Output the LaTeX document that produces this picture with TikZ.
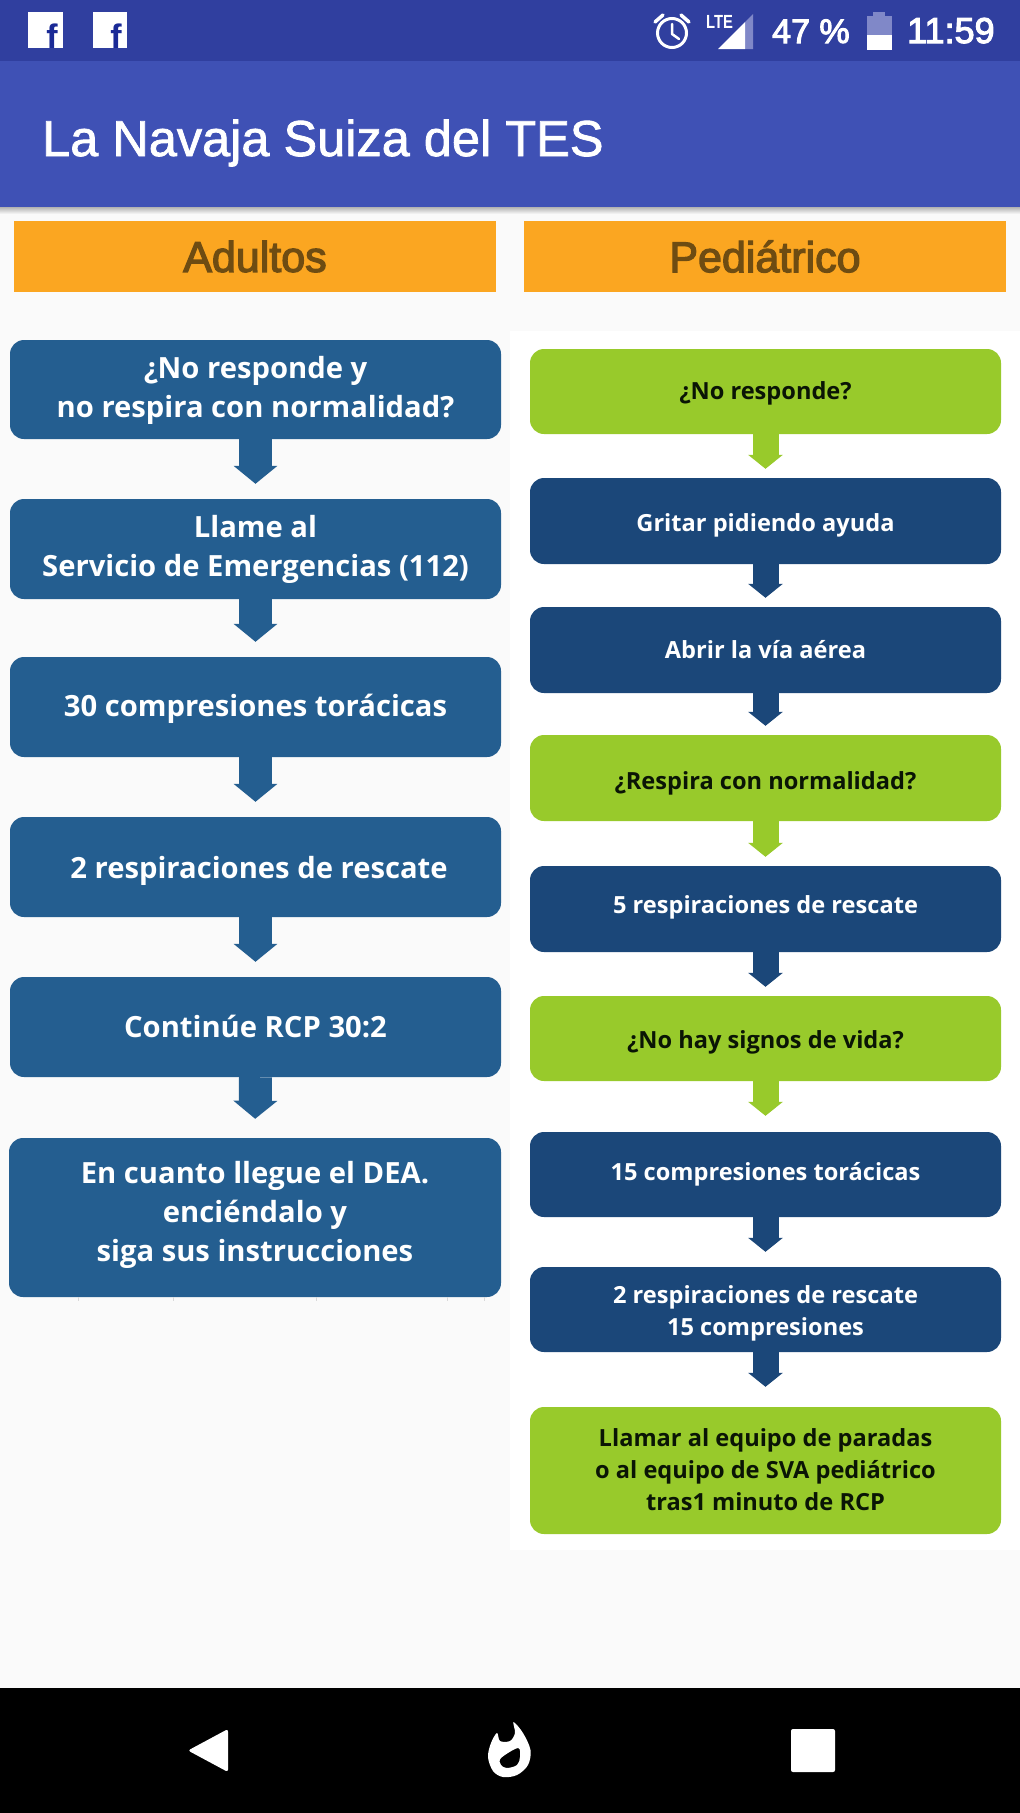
\documentclass[tikz,border=0pt]{standalone}
\usepackage{fontspec}
\setmainfont{Open Sans}
\newfontfamily\uifont{Liberation Sans}
\newfontfamily\mediumfont[FakeBold=1.5]{Liberation Sans}
\newfontfamily\headfont[FakeBold=3]{Liberation Sans}
\usetikzlibrary{arrows.meta}
\definecolor{bgc}{HTML}{FAFAFA}
\definecolor{statusc}{HTML}{303F9F}
\definecolor{appc}{HTML}{3F51B5}
\definecolor{orangec}{HTML}{FBA621}
\definecolor{brownc}{HTML}{6E4C12}
\definecolor{lblue}{HTML}{245E90}
\definecolor{dblue}{HTML}{1B4779}
\definecolor{greenc}{HTML}{98CA2B}
\definecolor{inkc}{HTML}{0A1505}
\definecolor{iconblue}{HTML}{1A2A96}
\definecolor{fadec}{HTML}{8088C8}
\tikzset{
  basebox/.style={rectangle,rounded corners=14pt,inner sep=0pt,align=center},
  lbox/.style={basebox,fill=lblue,text=white,minimum width=491pt,font=\bfseries\fontsize{29.2}{39}\selectfont},
  rbox/.style={basebox,fill=dblue,text=white,minimum width=471pt,font=\bfseries\fontsize{23.6}{32}\selectfont},
  gbox/.style={rbox,fill=greenc,text=inkc},
  bl/.style={text height=#1pt,text depth=0pt},
  header/.style={rectangle,fill=orangec,text=brownc,inner sep=0pt,minimum width=482pt,minimum height=71pt,font=\headfont\fontsize{43}{48}\selectfont},
  larrow/.style={draw=lblue,line width=33pt,shorten >=15pt,-{Triangle[length=18pt,width=43pt]}},
  darrow/.style={draw=dblue,line width=26pt,shorten >=9pt,-{Triangle[length=14pt,width=34pt]}},
  garrow/.style={darrow,draw=greenc},
  status/.style={text=white,inner sep=0pt,anchor=base west,font=\headfont\fontsize{34}{40}\selectfont}
}
\begin{document}
\begin{tikzpicture}[x=1pt,y=-1pt]
\useasboundingbox (0,0) rectangle (1020,1813);
% screen
\fill[bgc] (0,0) rectangle (1020,1813);
\fill[white] (510,331) rectangle (1020,1550);
\shade[top color=black!30,bottom color=bgc] (0,207) rectangle (1020,214);
\fill[appc] (0,61) rectangle (1020,207);
\fill[statusc] (0,0) rectangle (1020,61);
\fill[black] (0,1688) rectangle (1020,1813);
% status bar, left
\fill[white] (28,12) rectangle (63,48);
\fill[white] (93,12) rectangle (127,48);
\node[anchor=base east,inner sep=0pt,text=iconblue,font=\uifont\bfseries\fontsize{34}{40}\selectfont] (fa) at (58,48) {f};
\node[anchor=base east,inner sep=0pt,text=iconblue,font=\uifont\bfseries\fontsize{34}{40}\selectfont] (fb) at (122,48) {f};
% status bar, right
\draw[white,line width=3pt] (672,33) circle (14.5);
\draw[white,line width=2.5pt,line cap=round,line join=round] (672,24) -- (672,34) -- (679,39);
\draw[white,line width=3.5pt,line cap=round] (655,22) -- (663,15);
\draw[white,line width=3.5pt,line cap=round] (689,22) -- (681,15);
\node[status,font=\uifont\bfseries\fontsize{19}{20}\selectfont,xscale=.78] (lte) at (706,28) {LTE};
\fill[fadec] (745,22) -- (753,14) -- (753,49) -- (745,49) -- cycle;
\fill[white] (718,49) -- (745,22) -- (745,49) -- cycle;
\node[status] (pct) at (772,43) {47 \%};
\fill[fadec] (873,12) rectangle (885,17);
\fill[fadec] (867,16) rectangle (892,36);
\fill[white] (867,35) rectangle (892,50);
\node[status,font=\headfont\fontsize{36}{40}\selectfont] (clock) at (907,43) {11:59};
% app bar
\node[status,font=\mediumfont\fontsize{50.5}{60}\selectfont] (title) at (42,156) {La Navaja Suiza del TES};
% headers
\node[header] (hl) at (255,256.5) {Adultos};
\node[header] (hr) at (765,256.5) {Pediátrico};
% left column
\node[lbox,bl=56.4,minimum height=99pt] (a1) at (255.5,389.5) {¿No responde y\\no respira con normalidad?};
\node[lbox,bl=55.4,minimum height=100pt] (a2) at (255.5,549) {Llame al\\Servicio de Emergencias (112)};
\node[lbox,bl=19.4,minimum height=100pt] (a3) at (255.5,707) {30 compresiones torácicas};
\node[lbox,bl=22.6,minimum height=100pt] (a4) at (255.5,867) {\hspace*{7pt}2 respiraciones de rescate};
\node[lbox,bl=21.4,minimum height=100pt] (a5) at (255.5,1027) {Continúe RCP 30:2};
\node[lbox,bl=87,minimum height=159pt,minimum width=492pt] (a6) at (255,1217.5) {En cuanto llegue el DEA.\\enciéndalo y\\siga sus instrucciones};
\foreach \u/\v in {a1/a2,a2/a3,a3/a4,a4/a5} \draw[larrow] (\u.south) -- (\v.north);
\draw[larrow,shorten >=19pt] (a5.south) -- (a6.north);
\foreach \p in {78,173,316,447,484} \draw[black!15,line width=1pt] (\p,1297) -- (\p,1301);
% right column
\node[gbox,bl=15,minimum height=85pt] (b1) at (765.5,391.5) {¿No responde?};
\node[rbox,bl=21.4,minimum height=86pt] (b2) at (765.5,521) {Gritar pidiendo ayuda};
\node[rbox,bl=16.6,minimum height=86pt] (b3) at (765.5,650) {Abrir la vía aérea};
\node[gbox,bl=22.6,minimum height=86pt] (b4) at (765.5,778) {¿Respira con normalidad?};
\node[rbox,bl=8.6,minimum height=86pt] (b5) at (765.5,909) {5 respiraciones de rescate};
\node[gbox,bl=19.6,minimum height=85pt] (b6) at (765.5,1038.5) {¿No hay signos de vida?};
\node[rbox,bl=11,minimum height=85pt] (b7) at (765.5,1174.5) {15 compresiones torácicas};
\node[rbox,bl=51,minimum height=85pt] (b8) at (765.5,1309.5) {2 respiraciones de rescate\\15 compresiones};
\node[gbox,bl=80,minimum height=127pt] (b9) at (765.5,1470.5) {Llamar al equipo de paradas\\o al equipo de SVA pediátrico\\tras1 minuto de RCP};
\draw[garrow] (b1.south) -- (b2.north);
\draw[darrow] (b2.south) -- (b3.north);
\draw[darrow] (b3.south) -- (b4.north);
\draw[garrow] (b4.south) -- (b5.north);
\draw[darrow] (b5.south) -- (b6.north);
\draw[garrow,shorten >=16pt] (b6.south) -- (b7.north);
\draw[darrow,shorten >=15pt] (b7.south) -- (b8.north);
\draw[darrow,shorten >=20pt] (b8.south) -- (b9.north);
% navigation bar
\fill[white,rounded corners=2.5pt] (228,1729) -- (228,1772) -- (188,1750.5) -- cycle;
\fill[white,rounded corners=2pt] (791,1729) rectangle (835,1772);
\fill[white,even odd rule] plot[smooth cycle,tension=.55] coordinates {(513.5,1722) (523,1733) (530.5,1750) (528,1765) (517,1775) (503,1777) (493,1771) (488,1757) (491,1743) (497,1733) (500,1741) (510,1741) (515,1733)}
 plot[smooth cycle,tension=.55] coordinates {(501,1758) (518,1748) (520,1757) (517,1765) (507,1768) (501,1765)};
\end{tikzpicture}
\end{document}
